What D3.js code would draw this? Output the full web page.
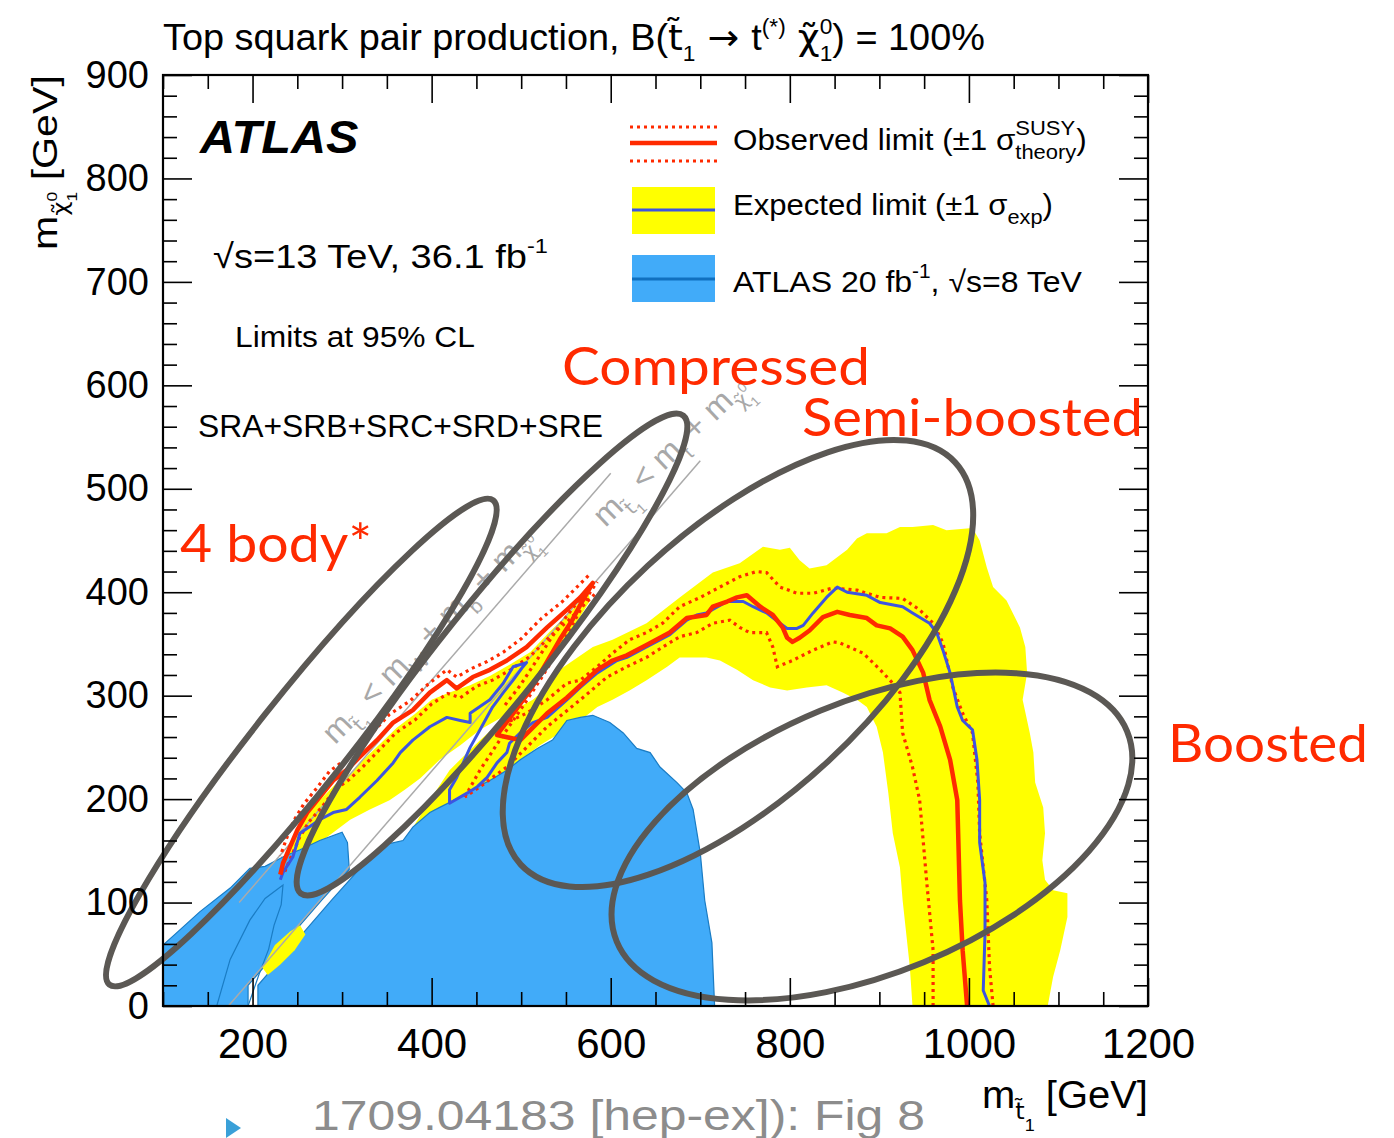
<!DOCTYPE html>
<html><head><meta charset="utf-8">
<script src="https://cdn.jsdelivr.net/npm/d3@7"></script>
<style>body{margin:0;background:#fff}svg{display:block;font-family:"Liberation Sans",Arial,sans-serif}</style>
</head><body>
<svg id="c" width="1394" height="1138"></svg>
<script>
// ---------- data (GeV) ----------
const xMajor=[200,400,600,800,1000,1200];
const yMajor=[0,100,200,300,400,500,600,700,800,900];
const xMinor=d3.range(100,1201,50);
const yMinor=d3.range(0,901,20);

const expectedLine=[[1023,0],[1016,15],[1018,71],[1018,119],[1012,158],[1012,199],[1009,238],[1004,267],[993,276],[987,289],[979,322],[971,344],[964,361],[956,370],[937,380],[926,386],[901,390],[886,397],[864,400],[853,405],[841,395],[826,380],[815,368],[808,365],[797,365],[789,370],[774,380],[759,386],[748,391],[730,391],[707,380],[696,378],[685,373],[666,359],[640,347],[618,337],[607,334],[585,322],[566,308],[551,296],[529,279],[513,274],[499,264],[487,254],[484,245],[473,235],[462,221],[451,212],[440,206],[420,196],[420,209],[428,221],[443,250],[454,267],[468,289],[480,303],[491,315],[502,328],[506,332],[491,328],[480,312],[465,296],[443,283],[443,274],[432,276],[417,279],[398,270],[379,257],[365,245],[357,235],[339,218],[320,202],[305,190],[290,187],[275,180],[253,167],[245,144],[234,129],[231,122]];

const observedLine=[[998,0],[993,54],[990,102],[988,167],[987,199],[979,238],[968,270],[956,296],[949,322],[937,344],[926,357],[912,365],[897,368],[886,375],[867,378],[853,381],[837,376],[822,363],[811,356],[803,352],[797,356],[792,366],[781,378],[767,386],[752,397],[741,395],[730,391],[714,386],[707,378],[685,375],[666,361],[640,349],[618,339],[602,334],[585,325],[566,310],[551,298],[529,283],[521,276],[499,257],[473,262],[487,278],[510,305],[527,330],[543,354],[557,373],[568,391],[580,409],[566,395],[551,383],[529,366],[506,347],[484,334],[465,325],[446,318],[428,307],[417,315],[398,303],[379,286],[357,274],[339,257],[320,241],[305,228],[290,218],[275,202],[261,187],[250,170],[242,154],[234,138],[231,127]];

const observedUp=[[1027,0],[1023,38],[1020,102],[1012,167],[1010,216],[1004,264],[993,283],[982,308],[971,351],[960,370],[945,383],[926,394],[901,395],[875,402],[848,404],[826,399],[808,399],[789,405],[774,419],[763,420],[744,415],[722,405],[700,395],[677,386],[658,370],[640,361],[621,354],[602,341],[585,328],[566,315],[551,312],[529,296],[506,283],[484,274]];
const observedDown=[[960,0],[960,54],[953,119],[945,199],[937,231],[926,264],[923,303],[915,312],[901,325],[882,341],[856,351],[848,352],[826,344],[803,334],[786,328],[781,347],[774,361],[755,361],[744,366],[733,373],[714,370],[696,361],[677,357],[658,347],[640,337],[618,328],[596,318],[566,296],[529,270],[506,250],[484,231],[454,212],[437,202]];
const compUp=[[575,416],[560,403],[546,391],[523,375],[500,355],[480,342],[462,333],[444,326],[428,318],[417,325],[396,311],[376,295],[353,282],[336,266],[317,249],[302,237],[286,227],[272,211],[257,195],[246,179],[238,162],[231,145]];
const compDown=[[582,398],[568,386],[553,373],[532,357],[510,338],[488,325],[468,315],[450,309],[432,298],[418,302],[400,292],[382,277],[360,264],[342,248],[323,231],[308,219],[292,209],[278,193],[263,178],[252,162],[244,146],[236,130]];
const compRightDot=[[437,202],[454,228],[476,257],[499,286],[521,315],[543,346],[560,373],[577,400],[585,410]];
const compRightDot2=[[482,291],[499,310],[521,339],[543,368],[566,394]];

const yellowMain=[[370,160],[398,199],[420,228],[454,257],[491,286],[513,296],[529,308],[543,325],[558,334],[580,347],[602,354],[640,370],[677,395],[714,419],[744,428],[770,444],[789,441],[800,443],[811,431],[822,423],[841,426],[864,441],[875,452],[886,457],[908,457],[923,463],[937,463],[960,465],[975,460],[1004,462],[1012,450],[1020,424],[1027,405],[1042,392],[1057,366],[1063,347],[1065,322],[1060,296],[1068,264],[1072,245],[1074,216],[1083,192],[1085,167],[1082,141],[1085,122],[1094,112],[1110,109],[1110,86],[1102,54],[1094,28],[1088,0],[937,0],[934,38],[926,102],[923,134],[915,167],[910,206],[904,245],[897,270],[886,289],[875,296],[859,303],[841,310],[819,308],[797,305],[778,308],[759,315],[741,325],[722,334],[707,337],[677,337],[663,328],[640,315],[621,305],[602,296],[585,289],[566,276],[521,252],[454,209],[398,180],[370,156]];
const yellowComp=[[228,117],[236,143],[245,162],[259,182],[275,199],[292,214],[309,225],[326,240],[342,253],[361,269],[381,282],[400,296],[420,303],[443,310],[465,319],[487,330],[510,342],[532,362],[554,380],[575,400],[577,392],[560,368],[538,339],[515,310],[499,291],[476,278],[454,267],[432,252],[409,238],[387,220],[370,209],[353,199],[331,190],[309,180],[286,165],[264,151],[247,136],[236,117]];
const yellowSmall=[[211,37],[225,59],[242,72],[253,78],[259,69],[247,54],[231,40],[217,30]];

const blueLeft=[[100,0],[100,59],[113,69],[141,91],[175,114],[197,133],[214,135],[236,145],[253,151],[275,160],[300,168],[306,158],[308,132],[278,103],[249,74],[220,45],[195,20],[195,0]];
const blueMain=[[206,0],[206,20],[231,45],[260,74],[289,103],[319,132],[348,156],[368,160],[379,173],[398,187],[409,192],[432,202],[451,212],[465,218],[484,228],[499,238],[518,249],[535,257],[551,276],[566,279],[580,281],[599,274],[614,264],[629,249],[644,245],[655,231],[674,216],[685,206],[692,190],[700,148],[705,102],[713,61],[716,0]];
const blueInner=[[160,0],[175,45],[197,83],[214,104],[234,117],[232,98],[224,78],[218,55],[207,30],[195,0]];

const mtLine=[[173,0],[700,527]];
const mWbLine=[[185,100],[600,515]];

const ellCx=[254.5,467.4,742.1,891.7], ellCy=[254.7,339.8,331.1,163.9];
const ellRx=[309,306,296,276], ellRy=[46,50,133,136], ellAng=[-51.6,-51.3,-42.8,-22.4];

// ---------- drawing ----------
const svg=d3.select('#c');
const X=d3.scaleLinear().domain([100,1200]).range([163,1148]);
const Y=d3.scaleLinear().domain([0,900]).range([1006,75]);
const line=d3.line().x(d=>X(d[0])).y(d=>Y(d[1]));
const poly=d=>line(d)+'Z';

const plot=svg.append('g');
plot.append('defs').append('clipPath').attr('id','clip').append('rect').attr('x',163).attr('y',75).attr('width',985).attr('height',931);
const P=plot.append('g').attr('clip-path','url(#clip)');

P.append('path').attr('d',poly(yellowMain)).attr('fill','#ffff00');
P.append('path').attr('d',poly(yellowComp)).attr('fill','#ffff00');
P.append('path').attr('d',poly(blueLeft)).attr('fill','#41abf9').attr('stroke','#1a7cc4').attr('stroke-width',1.2);
P.append('path').attr('d',poly(blueMain)).attr('fill','#41abf9').attr('stroke','#1a7cc4').attr('stroke-width',1.2);
P.append('path').attr('d',line(blueInner)).attr('fill','none').attr('stroke','#1a7cc4').attr('stroke-width',1.2);
P.append('path').attr('d',poly(yellowSmall)).attr('fill','#ffff00');

[mtLine,mWbLine].forEach(l=>P.append('path').attr('d',line(l)).attr('stroke','#aaaaaa').attr('stroke-width',1.5).attr('fill','none'));

const dot={stroke:'#ff2a00','stroke-width':3.2,'stroke-dasharray':'3,4',fill:'none'};
[observedUp,observedDown,compUp,compDown,compRightDot,compRightDot2].forEach(l=>{
  const p=P.append('path').attr('d',line(l)); Object.entries(dot).forEach(([k,v])=>p.attr(k,v));});
P.append('path').attr('d',line(expectedLine)).attr('fill','none').attr('stroke','#3d55e0').attr('stroke-width',3).attr('stroke-linejoin','round');
P.append('path').attr('d',line(observedLine)).attr('fill','none').attr('stroke','#ff2a00').attr('stroke-width',4.5).attr('stroke-linejoin','round');

// rich text helper: parts {t, o: baseline offset (em, +down), s: scale, stack: place over previous, f: font family}
function rich(parent,x,y,size,parts,attrs){
  const t=parent.append('text').attr('x',x).attr('y',y).style('font-size',size+'px');
  if(attrs) Object.entries(attrs).forEach(([k,v])=>t.style(k,v));
  let cur=0,last=null;
  parts.forEach(p=>{
    const o=(p.o||0)*size, fs=(p.s||1)*size;
    const ts=t.append('tspan').text(p.t).style('font-size',fs+'px').attr('dy',o-cur);
    if(p.f) ts.style('font-family',p.f);
    if(p.stack&&last) ts.attr('dx',-last.getComputedTextLength());
    cur=o; last=ts.node();
  });
  return t;
}
function fit(t,target){
  const n=t.node(); const w=n.getBBox().width; const x0=+t.attr('x'), y0=+t.attr('y');
  t.attr('transform',`translate(${x0},${y0}) scale(${target/w},1) translate(${-x0},${-y0})`);
}
const CHI='\u03c7\u0303', TT='t\u0303', DJ='DejaVu Sans';

// kinematic labels
function rotLabel(dx,dy,ang,parts,len){
  const g=P.append('g').attr('transform',`translate(${X(dx)},${Y(dy)}) rotate(${ang})`);
  const t=rich(g,0,0,32,parts,{fill:'#a8a8a8'}); fit(t,len);
}
rotLabel(292,252,-45.5,[{t:'m'},{t:TT,o:0.3,s:0.62,f:DJ},{t:'1',o:0.5,s:0.45},{t:' < m',o:0},{t:'W',o:0.3,s:0.62},{t:' + m',o:0},{t:'b',o:0.3,s:0.62},{t:' + m',o:0},{t:CHI,o:0.3,s:0.62,f:DJ},{t:'0',o:-0.05,s:0.42},{t:'1',o:0.55,s:0.42,stack:true}],288);
rotLabel(594,462,-44,[{t:'m'},{t:TT,o:0.3,s:0.62,f:DJ},{t:'1',o:0.5,s:0.45},{t:' < m',o:0},{t:'t',o:0.3,s:0.62},{t:' + m',o:0},{t:CHI,o:0.3,s:0.62,f:DJ},{t:'0',o:-0.05,s:0.42},{t:'1',o:0.55,s:0.42,stack:true}],200);

// ellipses (annotation overlay, not clipped)
const E=svg.append('g');
ellCx.forEach((cx,i)=>{
  E.append('ellipse').attr('transform',`translate(${X(cx)},${Y(ellCy[i])}) rotate(${ellAng[i]})`)
   .attr('rx',ellRx[i]).attr('ry',ellRy[i]).attr('fill','none').attr('stroke','#5b5854').attr('stroke-width',6);
});

// frame & axes
const ax=svg.append('g');
function styleAxis(g){g.select('.domain').remove();g.selectAll('line').attr('stroke','#000').attr('stroke-width',1.6);}
ax.append('g').attr('transform','translate(0,1006)').call(d3.axisBottom(X).tickValues(xMinor.filter(v=>v%200)).tickSize(-14).tickFormat('')).call(styleAxis);
ax.append('g').attr('transform','translate(0,1006)').call(d3.axisBottom(X).tickValues(xMajor).tickSize(-28).tickPadding(22).tickFormat(d3.format('d'))).call(styleAxis)
  .selectAll('text').style('font-size','42px').style('font-family','Liberation Sans').attr('fill','#000');
ax.append('g').attr('transform','translate(0,75)').call(d3.axisTop(X).tickValues(xMinor.filter(v=>v%200)).tickSize(-14).tickFormat('')).call(styleAxis);
ax.append('g').attr('transform','translate(0,75)').call(d3.axisTop(X).tickValues(xMajor).tickSize(-28).tickFormat('')).call(styleAxis);
ax.append('g').attr('transform','translate(163,0)').call(d3.axisLeft(Y).tickValues(yMinor.filter(v=>v%100)).tickSize(-14).tickFormat('')).call(styleAxis);
ax.append('g').attr('transform','translate(163,0)').call(d3.axisLeft(Y).tickValues(yMajor).tickSize(-29).tickPadding(14).tickFormat(d3.format('d'))).call(styleAxis)
  .selectAll('text').style('font-size','38px').style('font-family','Liberation Sans').attr('fill','#000');
ax.append('g').attr('transform','translate(1148,0)').call(d3.axisRight(Y).tickValues(yMinor.filter(v=>v%100)).tickSize(-14).tickFormat('')).call(styleAxis);
ax.append('g').attr('transform','translate(1148,0)').call(d3.axisRight(Y).tickValues(yMajor).tickSize(-29).tickFormat('')).call(styleAxis);
ax.append('rect').attr('x',163).attr('y',75).attr('width',985).attr('height',931).attr('fill','none').attr('stroke','#000').attr('stroke-width',2.2);

// texts
const T=svg.append('g');
fit(rich(T,163,50,36,[{t:'Top squark pair production, B('},{t:TT,f:DJ},{t:'1',o:0.3,s:0.6},{t:' \u2192 ',o:0,f:DJ},{t:'t',o:0},{t:'(*)',o:-0.45,s:0.6},{t:' '+CHI,o:0,f:DJ},{t:'0',o:-0.45,s:0.6},{t:'1',o:0.3,s:0.6,stack:true},{t:') = 100%',o:0}]),822);
const atl=T.append('text').attr('x',200).attr('y',153).text('ATLAS').style('font-size','46px').style('font-weight','bold').style('font-style','italic'); fit(atl,160);
fit(rich(T,213,268,34,[{t:'\u221as=13 TeV, 36.1 fb'},{t:'-1',o:-0.45,s:0.62}]),335);
const lim=T.append('text').attr('x',235).attr('y',347).text('Limits at 95% CL').style('font-size','30px'); fit(lim,240);
const sr=T.append('text').attr('x',198).attr('y',437).text('SRA+SRB+SRC+SRD+SRE').style('font-size','31px'); fit(sr,405);

// legend
const L=svg.append('g');
[127,161].forEach(yy=>L.append('line').attr('x1',630).attr('x2',717).attr('y1',yy).attr('y2',yy).attr('stroke','#ff2a00').attr('stroke-width',3.2).attr('stroke-dasharray','3,4'));
L.append('line').attr('x1',630).attr('x2',717).attr('y1',143).attr('y2',143).attr('stroke','#ff2a00').attr('stroke-width',4.5);
L.append('rect').attr('x',632).attr('y',187).attr('width',83).attr('height',47).attr('fill','#ffff00');
L.append('line').attr('x1',632).attr('x2',715).attr('y1',210).attr('y2',210).attr('stroke','#3d55e0').attr('stroke-width',3);
L.append('rect').attr('x',632).attr('y',255).attr('width',83).attr('height',47).attr('fill','#41abf9');
L.append('line').attr('x1',632).attr('x2',715).attr('y1',279).attr('y2',279).attr('stroke','#1070c0').attr('stroke-width',3);
fit(rich(L,733,150,30,[{t:'Observed limit (\u00b11 \u03c3'},{t:'SUSY',o:-0.5,s:0.7},{t:'theory',o:0.3,s:0.7,stack:true},{t:')',o:0}]),354);
fit(rich(L,733,215,30,[{t:'Expected limit (\u00b11 \u03c3'},{t:'exp',o:0.3,s:0.7},{t:')',o:0}]),320);
fit(rich(L,733,292,30,[{t:'ATLAS 20 fb'},{t:'-1',o:-0.45,s:0.65},{t:', \u221as=8 TeV',o:0}]),349);

// red region labels
const red={fill:'#ff2a00','font-family':'Lato, "Open Sans", sans-serif'};
[['Compressed',562,385,308],['Semi-boosted',802,436,341],['4 body*',180,562,192],['Boosted',1168,762,200]].forEach(([s,x,y,w])=>{
  const t=T.append('text').attr('x',x).attr('y',y).text(s).style('font-size','52px'); Object.entries(red).forEach(([k,v])=>t.style(k,v)); fit(t,w);});

// axis titles
fit(rich(T,982,1108,38,[{t:'m'},{t:TT,o:0.3,s:0.6,f:DJ},{t:'1',o:0.6,s:0.45},{t:'  [GeV]',o:0}]),166);
const yg=T.append('g').attr('transform','translate(57,250) rotate(-90)');
fit(rich(yg,0,0,36,[{t:'m'},{t:CHI,o:0.3,s:0.6,f:DJ},{t:'0',o:0.0,s:0.42},{t:'1',o:0.55,s:0.42,stack:true},{t:' [GeV]',o:0}]),175);

// footer
const ft=T.append('text').attr('x',312).attr('y',1130).text('1709.04183 [hep-ex]): Fig 8').style('font-size','42px').style('fill','#8c8c8c'); fit(ft,613);
T.append('path').attr('d','M226,1118 L241,1128 L226,1138 Z').attr('fill','#3aa0d8');
</script>
</body></html>
